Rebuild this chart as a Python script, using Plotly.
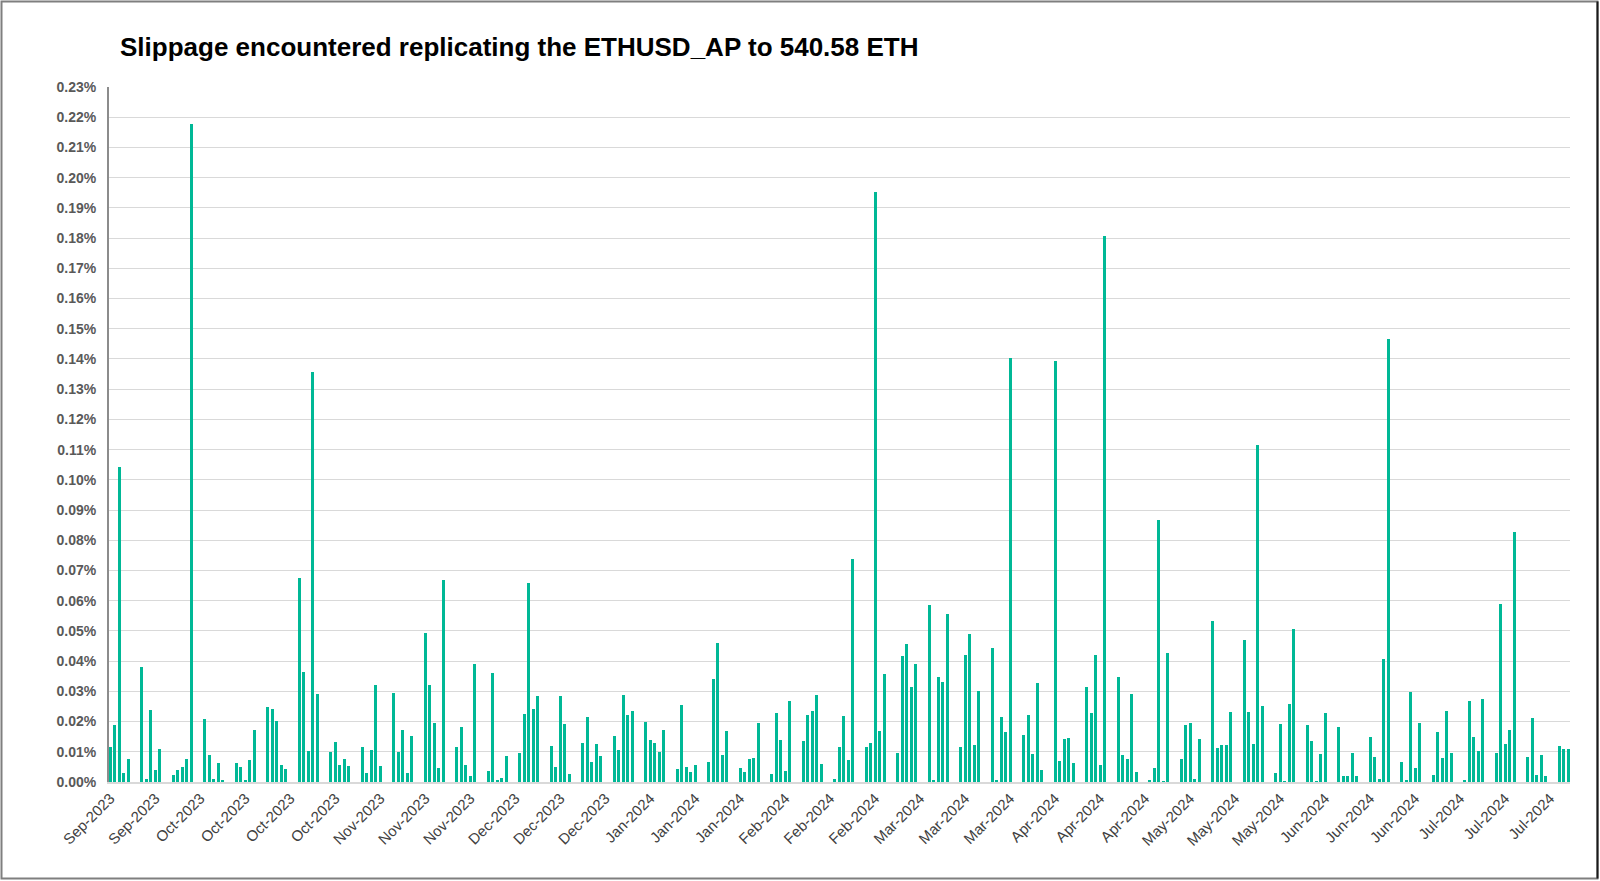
import pandas as pd
import plotly.graph_objects as go

# Trading days (weekdays) covered by the chart
start_date = "2023-09-11"
end_date = "2024-07-31"

# Slippage in percent, one value per weekday, grouped by week (Mon..Fri)
slippage_pct = [
    0.0117, 0.0190, 0.1044, 0.0029, 0.0076,
    0.0381, 0.0009, 0.0237, 0.0041, 0.0110,
    0.0024, 0.0040, 0.0050, 0.0076, 0.2177,
    0.0210, 0.0090, 0.0011, 0.0063, 0.0004,
    0.0063, 0.0050, 0.0007, 0.0073, 0.0173,
    0.0249, 0.0243, 0.0202, 0.0057, 0.0044,
    0.0676, 0.0363, 0.0104, 0.1356, 0.0292,
    0.0098, 0.0132, 0.0056, 0.0077, 0.0053,
    0.0115, 0.0031, 0.0105, 0.0322, 0.0054,
    0.0293, 0.0099, 0.0172, 0.0031, 0.0151,
    0.0493, 0.0320, 0.0194, 0.0047, 0.0667,
    0.0117, 0.0182, 0.0057, 0.0020, 0.0391,
    0.0037, 0.0362, 0.0004, 0.0014, 0.0086,
    0.0095, 0.0226, 0.0658, 0.0241, 0.0283,
    0.0120, 0.0050, 0.0286, 0.0191, 0.0026,
    0.0130, 0.0215, 0.0065, 0.0126, 0.0087,
    0.0151, 0.0106, 0.0289, 0.0223, 0.0236,
    0.0200, 0.0139, 0.0130, 0.0098, 0.0172,
    0.0042, 0.0255, 0.0051, 0.0034, 0.0055,
    0.0067, 0.0342, 0.0461, 0.0090, 0.0169,
    0.0046, 0.0033, 0.0076, 0.0078, 0.0194,
    0.0026, 0.0228, 0.0139, 0.0037, 0.0268,
    0.0137, 0.0222, 0.0236, 0.0289, 0.0060,
    0.0011, 0.0117, 0.0220, 0.0073, 0.0738,
    0.0116, 0.0130, 0.1953, 0.0170, 0.0359,
    0.0095, 0.0417, 0.0456, 0.0314, 0.0390,
    0.0585, 0.0004, 0.0347, 0.0332, 0.0556,
    0.0117, 0.0421, 0.0490, 0.0123, 0.0301,
    0.0445, 0.0008, 0.0216, 0.0166, 0.1403,
    0.0157, 0.0222, 0.0092, 0.0326, 0.0040,
    0.1393, 0.0071, 0.0141, 0.0146, 0.0063,
    0.0316, 0.0229, 0.0421, 0.0055, 0.1808,
    0.0348, 0.0088, 0.0076, 0.0290, 0.0034,
    0.0004, 0.0045, 0.0866, 0.0002, 0.0427,
    0.0076, 0.0187, 0.0195, 0.0009, 0.0143,
    0.0534, 0.0112, 0.0122, 0.0122, 0.0232,
    0.0471, 0.0233, 0.0127, 0.1116, 0.0250,
    0.0030, 0.0191, 0.0001, 0.0259, 0.0505,
    0.0190, 0.0136, 0.0002, 0.0092, 0.0228,
    0.0183, 0.0019, 0.0021, 0.0097, 0.0019,
    0.0149, 0.0083, 0.0011, 0.0408, 0.1467,
    0.0067, 0.0004, 0.0298, 0.0047, 0.0196,
    0.0024, 0.0166, 0.0080, 0.0236, 0.0095,
    0.0006, 0.0267, 0.0150, 0.0104, 0.0275,
    0.0097, 0.0588, 0.0125, 0.0172, 0.0829,
    0.0083, 0.0213, 0.0023, 0.0088, 0.0021,
    0.0120, 0.0109, 0.0110,
]

tick_labels = [
    "Sep-2023", "Sep-2023",
    "Oct-2023", "Oct-2023", "Oct-2023", "Oct-2023",
    "Nov-2023", "Nov-2023", "Nov-2023",
    "Dec-2023", "Dec-2023", "Dec-2023",
    "Jan-2024", "Jan-2024", "Jan-2024",
    "Feb-2024", "Feb-2024", "Feb-2024",
    "Mar-2024", "Mar-2024", "Mar-2024",
    "Apr-2024", "Apr-2024", "Apr-2024",
    "May-2024", "May-2024", "May-2024",
    "Jun-2024", "Jun-2024", "Jun-2024",
    "Jul-2024", "Jul-2024", "Jul-2024",
]

dates = pd.bdate_range(start_date, end_date)
tick_dates = pd.date_range(start_date, periods=len(tick_labels), freq="10D")

title_text = "Slippage encountered replicating the ETHUSD_AP to 540.58 ETH"
bar_color = "#00B896"
label_color = "#595959"
xlabel_color = "#404040"
FONT = "Liberation Sans, Arial, sans-serif"

W, H = 1600, 881
ML, MR, MT, MB = 109, 30, 87, 99
PW, PH = W - ML - MR, H - MT - MB

fig = go.Figure(
    go.Bar(
        x=dates,
        y=slippage_pct,
        marker=dict(color=bar_color, line=dict(width=0)),
        width=0.66 * 86400000,
    )
)


def px_to_paper_x(px):
    return (px - ML) / PW


def px_to_paper_y(py):
    return (H - MB - py) / PH


fig.update_layout(
    width=W,
    height=H,
    margin=dict(l=ML, r=MR, t=MT, b=MB, pad=0),
    paper_bgcolor="white",
    plot_bgcolor="white",
    showlegend=False,
    bargap=0,
    font=dict(family=FONT, color=label_color),
    title=dict(
        text=title_text,
        font=dict(family=FONT, size=26, color="#000000", weight="bold"),
        xref="paper",
        x=px_to_paper_x(120),
        xanchor="left",
        yref="container",
        y=1 - 47 / H,
        yanchor="middle",
    ),
    xaxis=dict(
        type="date",
        range=[pd.Timestamp(start_date) - pd.Timedelta(hours=7),
               pd.Timestamp(end_date) + pd.Timedelta(hours=10)],
        tickmode="array",
        tickvals=tick_dates,
        ticktext=tick_labels,
        tickangle=-45,
        tickfont=dict(family=FONT, size=15, color=xlabel_color),
        showgrid=False,
        showline=True,
        linecolor="#d9d9d9",
        linewidth=1.5,
        ticks="",
        zeroline=False,
    ),
    yaxis=dict(
        range=[0, 0.23],
        dtick=0.01,
        tick0=0,
        tickformat=".2f",
        ticksuffix="%",
        tickfont=dict(family=FONT, size=14, color=label_color, weight="bold"),
        showgrid=True,
        gridcolor="#d9d9d9",
        gridwidth=1,
        showline=True,
        linecolor="#8c8c8c",
        linewidth=2,
        ticks="",
        ticklabelstandoff=8,
        zeroline=False,
    ),
    shapes=[
        dict(
            type="rect",
            xref="paper", yref="paper",
            x0=px_to_paper_x(1.5), x1=px_to_paper_x(1597.5),
            y0=px_to_paper_y(878.5), y1=px_to_paper_y(1.5),
            line=dict(color="#7f7f7f", width=2),
            fillcolor="rgba(0,0,0,0)",
            layer="above",
        ),
        dict(
            type="line",
            xref="paper", yref="paper",
            x0=px_to_paper_x(1597.5), x1=px_to_paper_x(1597.5),
            y0=px_to_paper_y(878.5), y1=px_to_paper_y(1.5),
            line=dict(color="#1a1a1a", width=2),
        ),
    ],
)

fig.write_html(
    "out.html",
    config={"displayModeBar": False},
    post_script="document.body.style.margin='0';",
)
